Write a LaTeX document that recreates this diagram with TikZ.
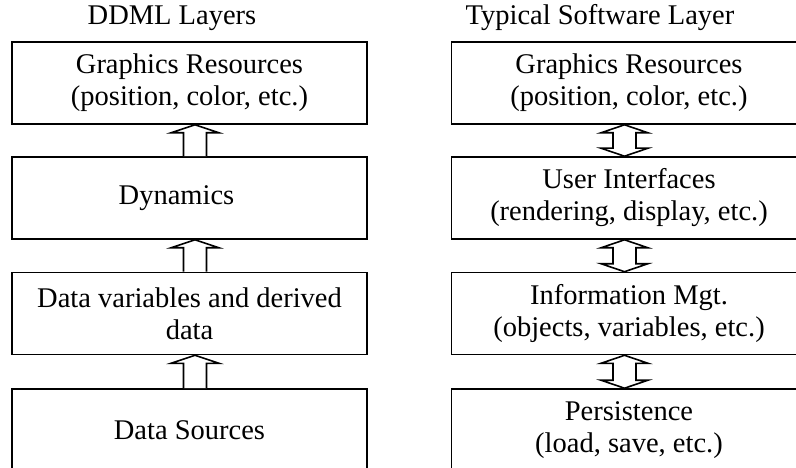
\documentclass[tikz,border=0pt]{standalone}
\usepackage{fontspec}
\setmainfont{Liberation Serif}
\usetikzlibrary{calc}

\newcommand{\blockup}[3]{% from #1 (lower box) up to #2, x offset #3
  \draw [blk] ($(#1.north)+(#3-11.5,0)$) -- ($(#2.south)+(#3-11.5,8)$)
    -- ($(#2.south)+(#3-24,8)$) -- ($(#2.south)+(#3,0)$)
    -- ($(#2.south)+(#3+24,8)$) -- ($(#2.south)+(#3+11.5,8)$)
    -- ($(#1.north)+(#3+11.5,0)$);}
\newcommand{\blockboth}[3]{% between #1 (upper box) and #2 (lower box)
  \draw [blk] ($(#1.south)+(#3,0)$) -- ($(#1.south)+(#3+23.5,8)$)
    -- ($(#1.south)+(#3+11.5,8)$) -- ($(#2.north)+(#3+11.5,-8)$)
    -- ($(#2.north)+(#3+23.5,-8)$) -- ($(#2.north)+(#3,0)$)
    -- ($(#2.north)+(#3-23.5,-8)$) -- ($(#2.north)+(#3-11.5,-8)$)
    -- ($(#1.south)+(#3-11.5,8)$) -- ($(#1.south)+(#3-23.5,8)$) -- cycle;}

\begin{document}
\begin{tikzpicture}[
  x=1pt, y=-1pt,
  font=\fontsize{28.5}{32}\selectfont,
  layer/.style={draw, line width=1.6pt, minimum width=355pt, minimum height=82pt,
    inner sep=0pt, align=center},
  blk/.style={draw, line width=1.6pt, fill=white, line join=miter}
  ]
\useasboundingbox (0,0) rectangle (796,468);
% left column
\node [anchor=center] (ltitle) at (172,18) {DDML Layers};
\node [layer] (lgr) at (189.5,83) {Graphics Resources\\(position, color, etc.)};
\node [layer] (ldyn) at (189.5,198) {\raisebox{-4pt}{Dynamics}\hspace*{26pt}};
\node [layer] (ldata) at (189.5,313.5) {Data variables and derived\\data};
\node [layer] (lsrc) at (189.5,430) {Data Sources};
\blockup{ldyn}{lgr}{5.5}
\blockup{ldata}{ldyn}{5.5}
\blockup{lsrc}{ldata}{5.5}
% right column
\node [anchor=center] (rtitle) at (600,18) {Typical Software Layer};
\node [layer] (rgr) at (629,83) {Graphics Resources\\(position, color, etc.)};
\node [layer] (rui) at (629,198) {User Interfaces\\(rendering, display, etc.)};
\node [layer] (rinfo) at (629,313.5) {Information Mgt.\\(objects, variables, etc.)};
\node [layer] (rper) at (629,430) {Persistence\\(load, save, etc.)};
\blockboth{rgr}{rui}{-4.5}
\blockboth{rui}{rinfo}{-4.5}
\blockboth{rinfo}{rper}{-4.5}
\end{tikzpicture}
\end{document}
